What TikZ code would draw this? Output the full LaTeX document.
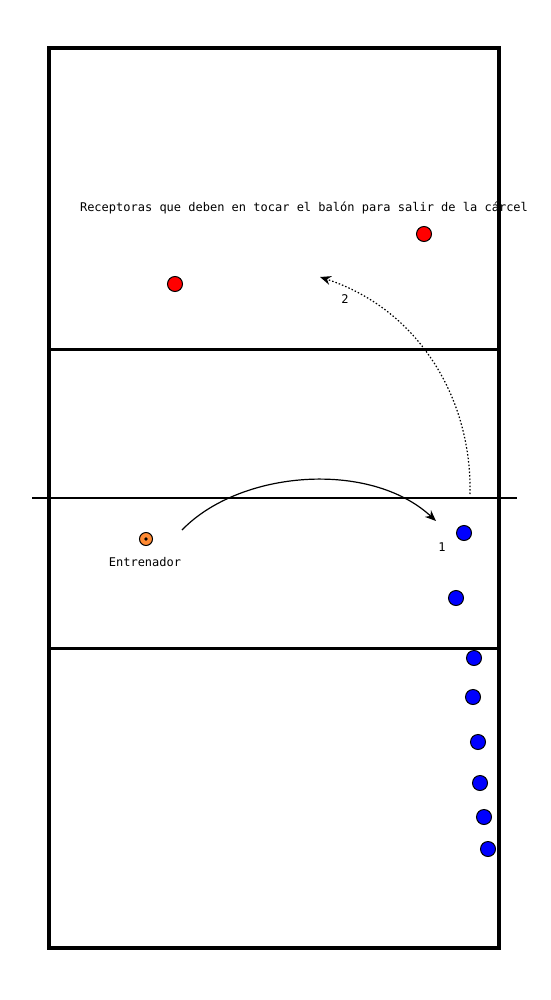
\documentclass[tikz,border=0pt]{standalone}
\usepackage{fontspec}
\setmonofont{DejaVu Sans Mono}
\usetikzlibrary{arrows.meta}
\begin{document}
\begin{tikzpicture}[x=1pt,y=-1pt,
  lbl/.style={font=\ttfamily\fontsize{12}{14}\selectfont, inner sep=0pt},
  red/.style={circle, draw=black, fill=red, minimum size=15pt, inner sep=0pt, line width=1pt},
  blue/.style={circle, draw=black, fill=blue, minimum size=15pt, inner sep=0pt, line width=1pt},
  coach/.style={circle, draw=black, fill=orange!85!red!80, minimum size=13pt, inner sep=0pt, line width=1pt},
  court/.style={line width=4.5pt},
  mid/.style={line width=3pt},
  pass/.style={line width=1.2pt, -{Stealth[length=11pt,width=9pt]}}]
\useasboundingbox (0,0) rectangle (550,1000);
% text
\node[lbl] (t) at (304,208) {Receptoras que deben en tocar el balón para salir de la cárcel};
\node[lbl] (ent) at (145,562) {Entrenador};
\node[lbl] (l1) at (442,547) {1};
\node[lbl] (l2) at (345,299) {2};
% court
\draw[court] (49,48) rectangle (499,948);
\draw[mid] (49,349) -- (499,349);
\draw[mid] (49,648) -- (499,648);
\draw[line width=2.5pt] (32,498) -- (517,498);
% players
\node[red] (r1) at (424,234) {};
\node[red] (r2) at (175,284) {};
\node[blue] (b1) at (464,533) {};
\node[blue] (b2) at (456,598) {};
\node[blue] (b3) at (474,658) {};
\node[blue] (b4) at (473,697) {};
\node[blue] (b5) at (478,742) {};
\node[blue] (b6) at (480,783) {};
\node[blue] (b7) at (484,817) {};
\node[blue] (b8) at (488,849) {};
\node[coach] (c) at (146,539) {};
\fill (c) circle (1.8pt);
% passes
\coordinate (p1s) at (182,530);
\coordinate (p1e) at (436,521);
\draw[pass] (p1s) .. controls (240,470) and (370,460) .. (p1e);
\coordinate (p2s) at (470,494);
\coordinate (p2e) at (320,277);
\draw[pass, dash pattern=on 1.5pt off 2pt] (p2s) .. controls (472,400) and (420,310) .. (p2e);
\end{tikzpicture}
\end{document}
